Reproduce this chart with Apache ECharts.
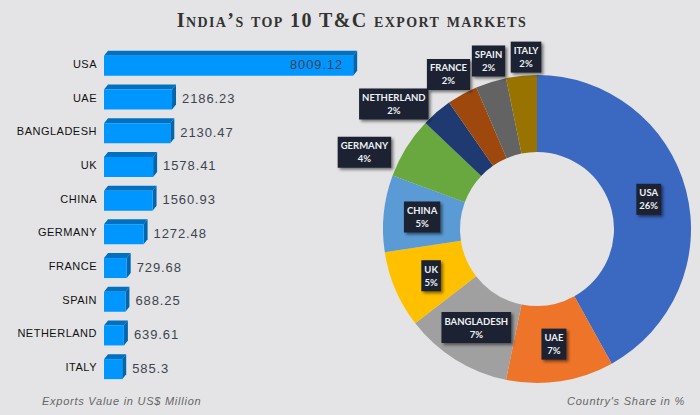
<!DOCTYPE html>
<html lang="en">
<head>
    <meta charset="utf-8" />
    <title>India's top 10 T&C export markets</title>
    <script src="https://cdn.jsdelivr.net/npm/echarts@6/dist/echarts.min.js"></script>
    <style>
        html, body { margin: 0; padding: 0; background: #e4e4e6; }
        /* canvas text has no letter spacing, so the svg renderer is used and styled here */
        text { letter-spacing: 0.9px; }
        text[style*="11px"] { letter-spacing: 0.5px; }
        text[style*="Liberation Serif"] { font-variant: small-caps !important; letter-spacing: 1.4px; }
        text[style*="italic"] { letter-spacing: 0.75px; }
        text[style*="Lato"] { letter-spacing: 0; }
    </style>
</head>
<body>
<div id="main" style="width: 700px;height:415px;"></div>
<script type="text/javascript">
    // bars, in picture order
    var barNames = ['USA', 'UAE', 'BANGLADESH', 'UK', 'CHINA', 'GERMANY', 'FRANCE', 'SPAIN', 'NETHERLAND', 'ITALY'];
    var barValues = [8009.12, 2186.23, 2130.47, 1578.41, 1560.93, 1272.48, 729.68, 688.25, 639.61, 585.3];

    // donut, clockwise from the top
    var pieNames = ['USA', 'UAE', 'BANGLADESH', 'UK', 'CHINA', 'GERMANY', 'NETHERLAND', 'FRANCE', 'SPAIN', 'ITALY'];
    var pieShares = [26, 7, 7, 5, 5, 4, 2, 2, 2, 2];
    var pieColors = ['#3b68c0', '#ee7429', '#a0a0a0', '#ffc000', '#5b9bd5', '#68a83f', '#1f3a70', '#9e480e', '#636363', '#997300'];
    // the small slices carry their label outside the ring
    var pieLabelOffsets = [[-3, 0], [-1, -2], [2, -2], [3, 0], [3, 0], [-72, -14], [-66, -35], [-31, -51], [-13, -55], [1, -54]];

    var myChart = echarts.init(document.getElementById('main'), null, {renderer: 'svg'});

    // flat front, darker top and side
    function renderBar(params, api) {
      var origin = api.coord([0, api.value(1)]);
      var end = api.coord([api.value(0), api.value(1)]);
      var x0 = origin[0], x1 = end[0], c = end[1];
      var top = c - 8, bottom = c + 12, dx = 4, dy = 5;
      var inside = api.value(0) > 4500;
      return {
        type: 'group',
        children: [
          { type: 'polygon', shape: { points: [[x0, top], [x0 + dx, top - dy], [x1 + dx, top - dy], [x1, top]] }, style: { fill: '#0070c0' } },
          { type: 'polygon', shape: { points: [[x1, top], [x1 + dx, top - dy], [x1 + dx, bottom - dy], [x1, bottom]] }, style: { fill: '#0066ad' } },
          { type: 'rect', shape: { x: x0, y: top, width: x1 - x0, height: bottom - top }, style: { fill: '#0096ff' } },
          {
            type: 'text',
            x: inside ? x1 - 10 : x1 + dx + 6,
            y: c + 1,
            style: {
              text: String(api.value(0)),
              fill: '#3c4450',
              font: 'normal 13px "Liberation Sans"',
              align: inside ? 'right' : 'left',
              verticalAlign: 'middle'
            }
          }
        ]
      };
    }

    var option = {
      backgroundColor: '#e4e4e6',
      animation: false,
      title: [
        {
          text: 'India’s top 10 T&C export markets',
          left: 347,
          top: 5,
          textAlign: 'center',
          textStyle: { fontFamily: 'Liberation Serif', fontSize: 20, fontWeight: 'bold', color: '#333333' }
        },
        {
          text: 'Exports Value in US$ Million',
          left: 37,
          top: 390,
          textStyle: { fontFamily: 'Liberation Sans', fontSize: 11, fontStyle: 'italic', fontWeight: 'normal', color: '#666666' }
        },
        {
          text: "Country's Share in %",
          left: 562,
          top: 390,
          textStyle: { fontFamily: 'Liberation Sans', fontSize: 11, fontStyle: 'italic', fontWeight: 'normal', color: '#666666' }
        }
      ],
      grid: { left: 104, top: 47, width: 280, height: 337 },
      xAxis: { type: 'value', min: 0, max: 9000, show: false },
      yAxis: {
        type: 'category',
        inverse: true,
        data: barNames,
        axisLine: { show: false },
        axisTick: { show: false },
        axisLabel: { margin: 7, color: '#111111', fontFamily: 'Liberation Sans', fontSize: 11 }
      },
      series: [
        {
          type: 'custom',
          renderItem: renderBar,
          clip: false,
          encode: { x: 0, y: 1 },
          data: barValues.map(function (v, i) { return [v, i]; })
        },
        {
          type: 'pie',
          center: [537, 229],
          radius: [77, 154],
          startAngle: 90,
          clockwise: true,
          avoidLabelOverlap: false,
          labelLayout: { hideOverlap: false },
          data: pieNames.map(function (name, i) {
            return {
              name: name,
              value: pieShares[i],
              itemStyle: { color: pieColors[i] },
              label: { offset: pieLabelOffsets[i] }
            };
          }),
          labelLine: { show: false },
          label: {
            show: true,
            position: 'inside',
            formatter: '{b}\n{c}%',
            color: '#eef1f4',
            fontFamily: 'Lato',
            fontWeight: 'bold',
            fontSize: 9.5,
            lineHeight: 13,
            align: 'center',
            backgroundColor: '#1a2230',
            padding: [3, 3, 2, 3],
            shadowColor: 'rgba(0,0,0,0.5)',
            shadowBlur: 3,
            shadowOffsetX: 2,
            shadowOffsetY: 2
          }
        }
      ]
    };
    myChart.setOption(option);
</script>
</body>
</html>
